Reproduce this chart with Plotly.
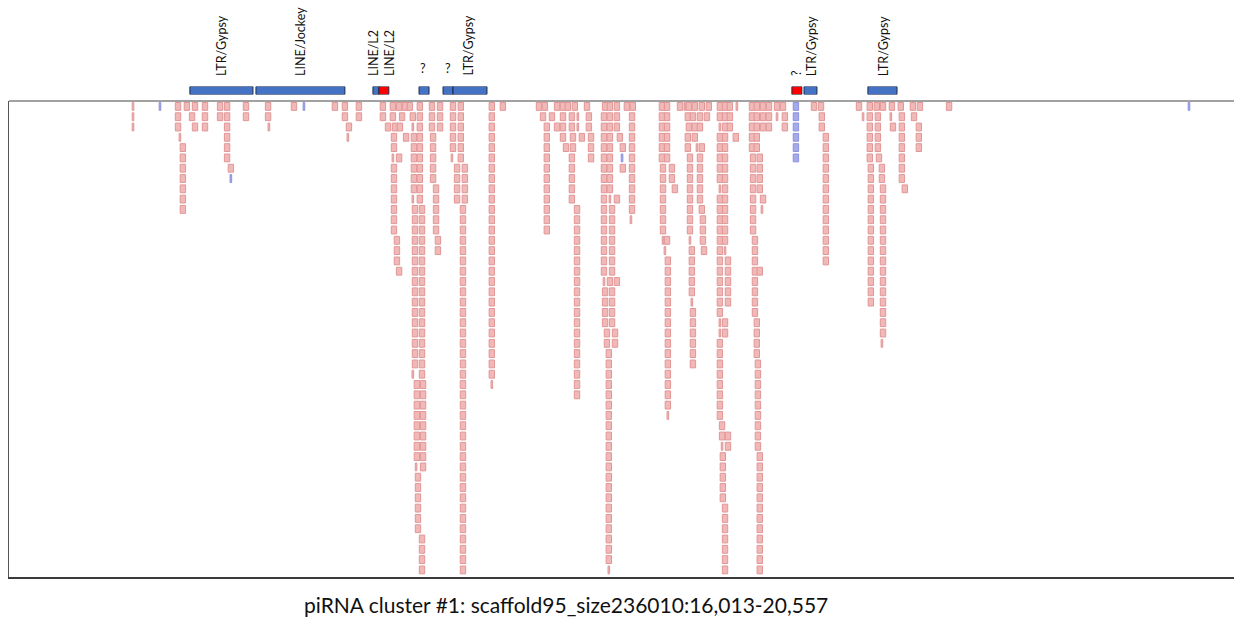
import plotly.graph_objects as go

# ---------------- data ----------------
# genomic window shown
window_start, window_end = 16013, 20557
title_text = "piRNA cluster #1: scaffold95_size236010:16,013-20,557"

# repeat annotation track: start, end, colour class, label
feat_start = [16684, 16929, 17363, 17385, 17534, 17623, 17660, 18917, 18962, 19199]
feat_end   = [16918, 17259, 17385, 17422, 17571, 17660, 17786, 18954, 19010, 19307]
feat_kind  = ["blue", "blue", "blue", "red", "blue", "blue", "blue", "red", "blue", "blue"]

label_text = ["LTR/Gypsy", "LINE/Jockey", "LINE/L2", "LINE/L2", "?", "?", "LTR/Gypsy", "?", "LTR/Gypsy", "LTR/Gypsy"]
label_pos  = [16801, 17094, 17367, 17426, 17549, 17641, 17716, 18936, 18991, 19258]
label_rot  = [True, True, True, True, False, False, True, True, True, True]

# read stacks: (read centre bp, first row, last row, kind)
# kind: f = sense read, t = short sense read, b = antisense read, bt = short antisense read
stacks_left = [
    (16473, 0, 2, "t"), (16573, 0, 0, "bt"), (16640, 0, 2, "f"), (16647, 3, 3, "t"),
    (16658, 4, 10, "f"), (16673, 0, 0, "f"), (16692, 1, 1, "f"), (16703, 0, 0, "f"),
    (16703, 2, 2, "f"), (16740, 0, 2, "f"), (16796, 0, 1, "f"), (16822, 0, 5, "f"),
    (16836, 6, 6, "f"), (16836, 7, 7, "bt"), (16892, 0, 1, "f"), (16974, 0, 1, "f"),
    (16977, 2, 2, "t"), (17070, 0, 0, "f"), (17107, 0, 0, "bt"), (17222, 0, 0, "f"),
    (17259, 0, 1, "f"), (17274, 2, 2, "f"), (17270, 3, 3, "t"), (17311, 0, 1, "f"),
]
stacks_mid_left = [
    (17400, 0, 1, "f"), (17419, 2, 2, "f"), (17437, 0, 1, "f"), (17445, 2, 2, "f"),
    (17441, 3, 4, "f"), (17437, 5, 5, "t"), (17441, 6, 12, "f"), (17452, 13, 15, "f"),
    (17460, 16, 16, "f"), (17460, 0, 0, "f"), (17471, 1, 1, "f"), (17463, 2, 2, "f"),
    (17460, 5, 5, "f"), (17482, 0, 0, "f"), (17486, 3, 3, "f"), (17500, 0, 0, "f"),
    (17511, 1, 1, "f"), (17511, 2, 2, "t"), (17515, 3, 8, "f"), (17511, 9, 9, "t"),
    (17519, 10, 25, "f"), (17511, 26, 26, "t"), (17526, 27, 34, "f"), (17523, 35, 35, "t"),
    (17530, 36, 41, "f"), (17545, 42, 45, "f"), (17537, 0, 9, "f"), (17545, 10, 26, "f"),
    (17549, 27, 35, "f"), (17582, 0, 2, "f"), (17586, 3, 7, "f"), (17597, 8, 12, "f"),
    (17604, 13, 14, "f"), (17612, 0, 2, "f"), (17660, 0, 4, "f"), (17656, 5, 5, "t"),
    (17675, 6, 9, "f"), (17689, 0, 5, "f"), (17704, 6, 9, "f"), (17697, 10, 45, "f"),
    (17804, 0, 26, "f"), (17804, 27, 27, "t"), (17845, 0, 0, "f"),
]
stacks_centre = [
    (17979, 0, 0, "f"), (18001, 0, 0, "f"), (17994, 1, 1, "f"), (18008, 2, 12, "f"),
    (18027, 1, 1, "f"), (18046, 0, 0, "f"), (18046, 2, 2, "f"), (18068, 0, 3, "f"),
    (18079, 4, 4, "f"), (18086, 0, 0, "f"), (18101, 1, 2, "f"), (18105, 3, 4, "f"),
    (18101, 5, 9, "f"), (18120, 10, 28, "f"), (18112, 0, 0, "f"), (18123, 1, 2, "t"),
    (18138, 3, 3, "f"), (18157, 0, 0, "f"), (18164, 1, 2, "f"), (18172, 3, 5, "f"),
    (18224, 0, 0, "f"), (18220, 1, 16, "f"), (18220, 17, 17, "t"), (18224, 18, 21, "f"),
    (18231, 22, 23, "f"), (18238, 24, 44, "f"), (18238, 45, 45, "t"), (18242, 0, 8, "f"),
    (18242, 9, 9, "t"), (18250, 10, 16, "f"), (18242, 17, 17, "f"), (18250, 18, 21, "f"),
    (18261, 22, 23, "f"), (18268, 0, 2, "f"), (18268, 9, 9, "f"), (18268, 17, 17, "f"),
    (18279, 3, 3, "f"), (18290, 4, 4, "f"), (18287, 5, 5, "bt"), (18290, 6, 6, "f"),
    (18305, 0, 0, "f"), (18327, 0, 0, "f"), (18324, 1, 10, "f"), (18320, 11, 11, "t"),
]
stacks_mid_right = [
    (18435, 0, 5, "f"), (18454, 0, 5, "f"), (18439, 6, 12, "f"), (18472, 6, 7, "f"),
    (18483, 8, 8, "f"), (18439, 13, 13, "t"), (18454, 13, 13, "f"), (18446, 14, 14, "t"),
    (18457, 15, 29, "f"), (18457, 30, 30, "t"), (18502, 0, 0, "f"), (18520, 0, 0, "t"),
    (18535, 0, 0, "f"), (18531, 1, 1, "f"), (18535, 2, 2, "f"), (18531, 3, 4, "f"),
    (18539, 5, 12, "f"), (18539, 13, 13, "t"), (18546, 14, 18, "f"), (18546, 19, 19, "t"),
    (18550, 20, 25, "f"), (18557, 0, 0, "f"), (18550, 1, 1, "f"), (18557, 2, 3, "f"),
    (18565, 4, 4, "t"), (18583, 0, 0, "f"), (18576, 1, 2, "f"), (18583, 4, 4, "f"),
    (18576, 5, 9, "f"), (18583, 10, 10, "f"), (18587, 11, 13, "f"), (18591, 14, 14, "f"),
    (18609, 0, 0, "f"), (18602, 1, 1, "f"),
    (18650, 0, 1, "f"), (18650, 2, 2, "t"), (18650, 3, 7, "f"), (18650, 8, 8, "t"),
    (18650, 9, 20, "f"), (18650, 21, 22, "t"), (18650, 23, 30, "f"), (18658, 31, 32, "f"),
    (18658, 33, 33, "t"), (18661, 34, 38, "f"), (18669, 39, 45, "f"), (18669, 0, 13, "f"),
    (18669, 14, 14, "t"), (18680, 15, 19, "f"), (18669, 21, 22, "f"), (18680, 32, 33, "f"),
    (18687, 0, 2, "f"), (18713, 0, 0, "t"), (18709, 3, 3, "f"),
    (18769, 0, 4, "f"), (18773, 5, 12, "f"), (18780, 13, 20, "f"), (18787, 21, 24, "f"),
    (18791, 25, 33, "f"), (18798, 34, 45, "f"), (18787, 0, 4, "f"), (18798, 5, 8, "f"),
    (18810, 9, 9, "f"), (18806, 10, 10, "t"), (18798, 16, 16, "f"), (18810, 0, 2, "f"),
    (18832, 0, 2, "f"),
]
stacks_right = [
    (18862, 0, 0, "f"), (18862, 1, 1, "t"), (18884, 0, 0, "f"), (18891, 1, 2, "f"),
    (18932, 0, 5, "b"), (18999, 0, 0, "f"), (19025, 0, 0, "f"), (19028, 1, 2, "f"),
    (19043, 3, 15, "f"), (19166, 0, 0, "f"), (19181, 1, 1, "t"), (19206, 0, 5, "f"),
    (19210, 6, 19, "f"), (19232, 0, 0, "f"), (19236, 1, 4, "f"), (19240, 5, 5, "f"),
    (19251, 6, 7, "f"), (19255, 8, 22, "f"), (19251, 23, 23, "t"), (19255, 0, 0, "f"),
    (19284, 1, 1, "t"), (19288, 0, 0, "f"), (19292, 2, 2, "f"), (19321, 0, 0, "f"),
    (19325, 1, 7, "f"), (19336, 8, 8, "f"), (19366, 0, 0, "f"), (19370, 1, 1, "f"),
    (19392, 0, 0, "f"), (19388, 2, 4, "f"), (19500, 0, 0, "f"), (20390, 0, 0, "bt"),
]

# ---------------- styling ----------------
READ_LEN = 20        # bp
SHORT_LEN = 6        # bp
READ_H = 0.76        # fraction of a row
PINK_FILL, PINK_EDGE = "rgb(241,184,184)", "rgb(226,150,150)"
BLUE_FILL, BLUE_EDGE = "rgb(166,170,232)", "rgb(140,146,222)"
FEAT_COL = {"blue": "#4472C4", "red": "#FF0000"}
FONT = "Lato, 'Open Sans', sans-serif"

W, H = 1234, 617
plot_top_px, plot_bot_px = 101, 577
row_pitch_px = 10.3
top_pad_rows = 1.5 / row_pitch_px
n_rows = (plot_bot_px - plot_top_px) / row_pitch_px

all_stacks = stacks_left + stacks_mid_left + stacks_centre + stacks_mid_right + stacks_right

groups = {"pink": {"x": [], "base": [], "w": []}, "blue": {"x": [], "base": [], "w": []}}
for pos, r0, r1, kind in all_stacks:
    g = groups["blue" if kind.startswith("b") else "pink"]
    w = SHORT_LEN if kind.endswith("t") else READ_LEN
    for r in range(r0, r1 + 1):
        g["x"].append(pos)
        g["base"].append(r)
        g["w"].append(w)

fig = go.Figure()
for name, fill, edge in [("pink", PINK_FILL, PINK_EDGE), ("blue", BLUE_FILL, BLUE_EDGE)]:
    g = groups[name]
    fig.add_trace(go.Bar(
        x=g["x"], base=g["base"], y=[READ_H] * len(g["x"]), width=g["w"],
        marker=dict(color=fill, line=dict(color=edge, width=1)),
        xaxis="x", yaxis="y", hoverinfo="skip", showlegend=False,
    ))

fig.add_trace(go.Bar(
    x=[(s + e) / 2 for s, e in zip(feat_start, feat_end)],
    width=[e - s for s, e in zip(feat_start, feat_end)],
    base=[0] * len(feat_start), y=[1] * len(feat_start),
    marker=dict(color=[FEAT_COL[k] for k in feat_kind], line=dict(color="#1c2b48", width=1)),
    xaxis="x", yaxis="y2", hoverinfo="skip", showlegend=False,
))

dom_lo = (H - plot_bot_px) / H
dom_hi = (H - plot_top_px) / H
label_base = (H - 78) / H

annotations = []
for txt, pos, rot in zip(label_text, label_pos, label_rot):
    annotations.append(dict(
        x=pos, xref="x", y=label_base, yref="paper", text=txt, showarrow=False,
        textangle=-90 if rot else 0, xanchor="center", yanchor="bottom",
        font=dict(family=FONT, size=12.5, color="#111"),
    ))
annotations.append(dict(
    x=(566 - 9) / (W - 9), xref="paper", y=(H - 604) / H, yref="paper", text=title_text,
    showarrow=False, xanchor="center", yanchor="middle",
    font=dict(family=FONT, size=21, color="#111"),
))

fig.update_layout(
    width=W, height=H, margin=dict(l=9, r=0, t=0, b=0),
    paper_bgcolor="white", plot_bgcolor="white", barmode="overlay",
    xaxis=dict(range=[window_start, window_end], showgrid=False, zeroline=False,
               showticklabels=False, ticks="", showline=True, linecolor="#3a3a3a", linewidth=2),
    yaxis=dict(domain=[dom_lo, dom_hi], range=[n_rows - top_pad_rows, -top_pad_rows],
               showgrid=False, zeroline=False, showticklabels=False, ticks="",
               showline=True, linecolor="#555", linewidth=1),
    yaxis2=dict(domain=[(H - 94.5) / H, (H - 86.5) / H], range=[0, 1], visible=False,
                anchor="x", showgrid=False, zeroline=False),
    shapes=[dict(type="line", xref="paper", yref="paper", x0=0, x1=1, y0=dom_hi, y1=dom_hi,
                 line=dict(color="#444", width=1))],
    annotations=annotations,
)

fig.write_html("out.html", config={"displayModeBar": False},
               post_script="document.body.style.margin='0';document.body.style.overflow='hidden';")
